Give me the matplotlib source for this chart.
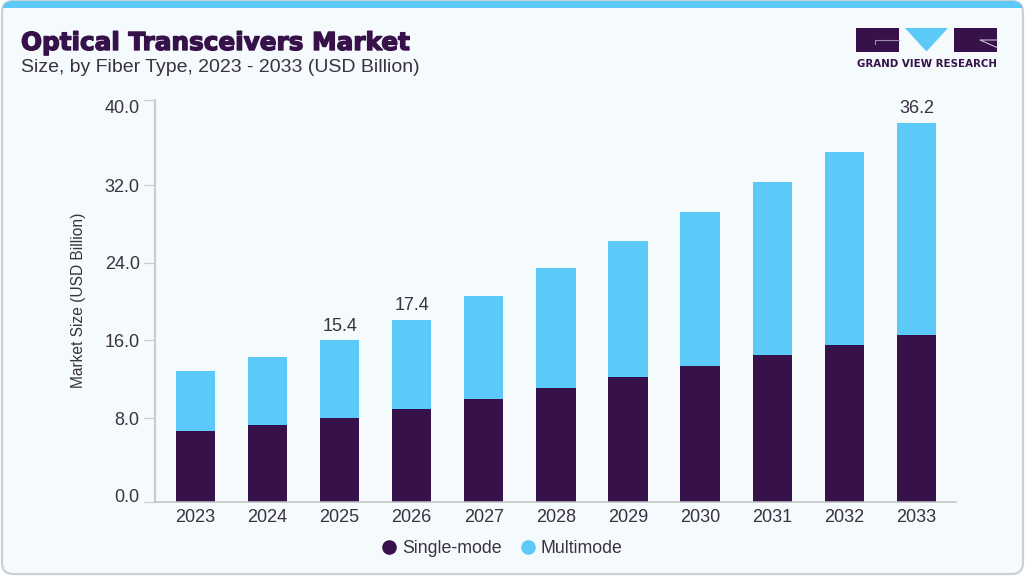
import matplotlib
matplotlib.use('Agg')
import matplotlib.pyplot as plt
import matplotlib.patheffects as pe
from matplotlib.patches import FancyBboxPatch, Rectangle, Polygon

years = ['2023', '2024', '2025', '2026', '2027', '2028', '2029', '2030', '2031', '2032', '2033']
single_mode = [6.74, 7.27, 7.98, 8.80, 9.80, 10.85, 11.90, 12.95, 14.05, 14.96, 15.92]
multimode = [5.78, 6.54, 7.42, 8.60, 9.85, 11.45, 13.00, 14.75, 16.50, 18.44, 20.28]
# only these three totals are printed on the chart
shown_totals = {'2025': '15.4', '2026': '17.4', '2033': '36.2'}
# the printed axis does not line up with the bar heights, so ticks sit where they are drawn
tick_spots = [0, 7.97, 15.4, 22.84, 30.26, 38.36]
tick_names = ['0.0', '8.0', '16.0', '24.0', '32.0', '40.0']

DARK = '#36114A'
BLUE = '#5BCAF9'
BACK = '#F5FAFD'
GREY = '#C9CBCE'
TEXT = '#3A3142'
W, H = 1025, 576

plt.rcParams['font.family'] = ['Liberation Sans', 'DejaVu Sans']

fig = plt.figure(figsize=(W / 100, H / 100), dpi=100, facecolor='white')

# card, top stripe and logo are drawn on a background axes in pixels
bg = fig.add_axes([0, 0, 1, 1], zorder=0)
bg.set_xlim(0, W)
bg.set_ylim(H, 0)
bg.axis('off')
card = FancyBboxPatch((2, 1), W - 4, H - 3, boxstyle='round,pad=0,rounding_size=11',
                      fc=BACK, ec='#CDD0D2', lw=1.6)
bg.add_patch(card)
stripe = Rectangle((0, 0), W, 8, fc=BLUE, ec='none')
bg.add_patch(stripe)
stripe.set_clip_path(card)

bg.add_patch(Rectangle((856, 28), 43, 23.5, fc=DARK, ec='none'))
bg.add_patch(Rectangle((954, 28), 43, 23.5, fc=DARK, ec='none'))
bg.add_patch(Polygon([(905, 28), (948, 28), (926.5, 51.5)], fc=BLUE, ec='none'))
bg.plot([875, 875, 899], [43.5, 40, 40], color='#9F8BAE', lw=0.8)
bg.plot([997, 980, 997], [40, 40, 47.5], color='#C9BDD3', lw=0.8)
bg.text(926.5, 64, 'GRAND VIEW RESEARCH', color=DARK, fontsize=7.4, fontweight='bold',
        ha='center', va='center', family=['DejaVu Sans'])

bg.text(21, 43, 'Optical Transceivers Market', color=DARK, fontsize=17.8, fontweight='bold',
        ha='left', va='center', family=['DejaVu Sans'],
        path_effects=[pe.withStroke(linewidth=1.0, foreground=DARK)])
bg.text(21, 68, 'Size, by Fiber Type, 2023 - 2033 (USD Billion)', color=TEXT, fontsize=14,
        ha='left', va='center')

# main plot
ax = fig.add_axes([155 / W, 1 - 501.5 / H, (956 - 155) / W, (501.5 - 100.3) / H], zorder=1)
ax.patch.set_alpha(0)
x = list(range(len(years)))
ax.bar(x, single_mode, width=0.545, color=DARK, label='Single-mode')
ax.bar(x, multimode, width=0.545, bottom=single_mode, color=BLUE, label='Multimode')

for i, year in enumerate(years):
    if year in shown_totals:
        ax.annotate(shown_totals[year], (i, single_mode[i] + multimode[i]), xytext=(0, 4.2),
                    textcoords='offset points', ha='center', va='bottom', color=TEXT, fontsize=13)

ax.set_xlim(-0.56, 10.55)
ax.set_ylim(0, 38.36)
ax.set_xticks(x, years)
ax.set_yticks(tick_spots, tick_names)
ax.tick_params(axis='x', length=0, pad=5.6, labelsize=13, labelcolor=TEXT)
ax.tick_params(axis='y', length=8, width=0.9, color=GREY, pad=3, labelsize=13, labelcolor=TEXT)
labels = ax.get_yticklabels()
labels[0].set_va('baseline')
labels[-1].set_va('top')

ax.spines['top'].set_visible(False)
ax.spines['right'].set_visible(False)
ax.spines['left'].set_color(GREY)
ax.spines['left'].set_linewidth(1.5)
ax.spines['bottom'].set_color('#BDBEC3')
ax.spines['bottom'].set_linewidth(1.1)

fig.text(78 / W, 1 - 300 / H, 'Market Size (USD Billion)', rotation=90, color=TEXT,
         fontsize=11.2, ha='center', va='center')

handles = [plt.Line2D([], [], marker='o', ls='', ms=9.5, color=DARK),
           plt.Line2D([], [], marker='o', ls='', ms=9.5, color=BLUE)]
fig.legend(handles, ['Single-mode', 'Multimode'], loc='center', bbox_to_anchor=(497 / W, 1 - 548.5 / H),
           ncol=2, frameon=False, fontsize=12.8, labelcolor=TEXT, handletextpad=-0.25,
           columnspacing=0.45)

fig.savefig('out.png', dpi=100)
